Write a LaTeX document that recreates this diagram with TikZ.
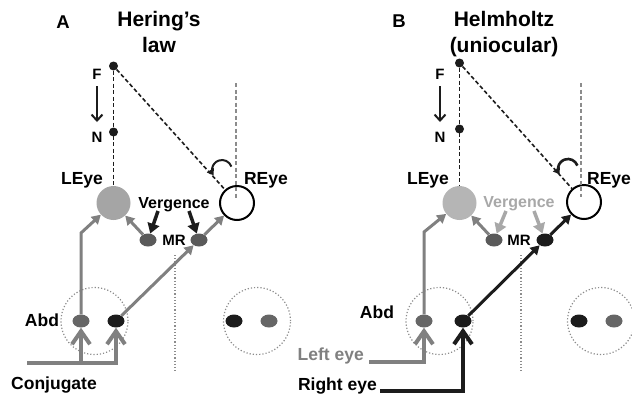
\documentclass[tikz,border=0pt]{standalone}
\usepackage{fontspec}
\setmainfont{Liberation Sans}
\usetikzlibrary{arrows.meta,shapes.geometric}
\definecolor{eyeA}{HTML}{A5A5A5}
\definecolor{eyeB}{HTML}{B5B5B5}
\definecolor{arrgray}{HTML}{808080}
\definecolor{mrdot}{HTML}{5A5A5A}
\definecolor{abddot}{HTML}{666666}
\definecolor{blk}{HTML}{1C1C1C}
\definecolor{lightg}{HTML}{A8A8A8}
\definecolor{dotg}{HTML}{8C8C8C}
\begin{document}
\begin{tikzpicture}[x=1pt,y=-1pt,
  lbl/.style={font=\fontsize{17.5}{20}\selectfont\bfseries, inner sep=0, anchor=base},
  smalllbl/.style={font=\fontsize{15}{18}\selectfont\bfseries, inner sep=0, anchor=base},
  verglbl/.style={font=\fontsize{16}{18}\selectfont\bfseries, inner sep=0, anchor=base},
  ttl/.style={font=\fontsize{21}{26}\selectfont\bfseries, inner sep=0, align=center, anchor=base},
  lefteye/.style={circle, minimum size=34pt, inner sep=0, fill=#1},
  righteye/.style={circle, minimum size=34pt, inner sep=0, draw=black, line width=2pt, fill=white},
  spot/.style={ellipse, minimum width=17pt, minimum height=13pt, inner sep=0, fill=#1},
  fixpt/.style={circle, fill=blk, minimum size=9pt, inner sep=0},
  pupil/.style={circle, draw=dotg, line width=1.2pt, dash pattern=on 1.2pt off 2pt, minimum size=67pt, inner sep=0},
  dline/.style={draw=dotg, line width=1.2pt, dash pattern=on 1.2pt off 2pt},
  bdash/.style={draw=blk, line width=1.6pt, dash pattern=on 4pt off 2.5pt},
  gdash/.style={draw=dotg, line width=1.5pt, dash pattern=on 4pt off 2.5pt},
  garrow/.style={draw=#1, line width=3pt, -{Triangle[length=9pt,width=10pt]}},
  verg/.style={draw=#1, line width=3.5pt, -{Triangle[length=10pt,width=12pt]}},
  inline/.style={draw=#1, line width=4pt, -{Straight Barb[length=13pt,width=18pt]}},
  fnarrow/.style={draw=blk, line width=2pt, -{Straight Barb[length=6pt,width=11pt]}},
  turn/.style={draw=blk, line width=#1, -{Triangle[length=6pt,width=8pt]}}
]
\useasboundingbox (0,0) rectangle (632,394);

% ================= Panel A =================
\node[lbl, font=\fontsize{18.5}{20}\selectfont\bfseries] (labA) at (63,28) {A};
\node[ttl] (ttlA) at (159,52) {Hering’s\\law};

\node[fixpt] (Fa) at (113.5,66) {};
\node[fixpt] (Na) at (113.5,132) {};
\node[smalllbl] (FlabA) at (97,79) {F};
\node[smalllbl] (NlabA) at (97,142) {N};
\coordinate (fnA1) at (97,86);
\coordinate (fnA2) at (97,122);
\draw[fnarrow] (fnA1) -- (fnA2);

\node[lefteye=eyeA] (LEa) at (113.5,203) {};
\node[righteye] (REa) at (237,203) {};
\node[lbl] (LEyeA) at (82,184) {LEye};
\node[lbl] (REyeA) at (266,184) {REye};

\draw[bdash] (Fa) -- (LEa);
\draw[bdash] (Fa) -- (REa);
\coordinate (gdA) at (236,83);
\coordinate (gdAe) at (236,198);
\draw[gdash] (gdA) -- (gdAe);

\coordinate (arcA) at (222,170);
\draw[turn=2pt] ([shift={(20:10pt)}]arcA) arc[start angle=20, end angle=212, radius=10pt];

\node[verglbl] (VergA) at (174,208) {Vergence};
\node[spot=mrdot] (MRlA) at (148,240) {};
\node[spot=mrdot] (MRrA) at (199,240) {};
\node[smalllbl] (MRA) at (174,245) {MR};
\coordinate (v1A) at (158,211);
\coordinate (v2A) at (189,211);
\draw[verg=blk] (v1A) -- (MRlA);
\draw[verg=blk] (v2A) -- (MRrA);
\draw[garrow=arrgray] (MRlA) -- (LEa);
\draw[garrow=arrgray] (MRrA) -- (REa);

\coordinate (dvA1) at (175,255);
\coordinate (dvA2) at (175,373);
\draw[dline] (dvA1) -- (dvA2);

\node[pupil] (pupLA) at (94.5,321) {};
\node[spot=abddot] (AbdA) at (81,321) {};
\node[spot=blk] (BkA) at (116,321) {};
\node[lbl] (AbdlabA) at (42,326) {Abd};
\draw[garrow=arrgray] (AbdA) -- (AbdA |- 0,233) -- (LEa);
\draw[garrow=arrgray] (BkA) -- (MRrA);

\node[pupil] (pupRA) at (257,321) {};
\node[spot=blk] (BkRA) at (234,321) {};
\node[spot=abddot] (GrRA) at (269,321) {};

\coordinate (cj0) at (27,363);
\draw[inline=arrgray] (cj0) -| (BkA);
\draw[inline=arrgray] (AbdA |- cj0) -- (AbdA);
\node[lbl] (ConjA) at (54,389) {Conjugate};

% ================= Panel B =================
\node[lbl, font=\fontsize{18.5}{20}\selectfont\bfseries] (labB) at (399,27) {B};
\node[ttl] (ttlB) at (504,52) {Helmholtz\\(uniocular)};

\node[fixpt] (Fb) at (459.5,63) {};
\node[fixpt] (Nb) at (459.5,129) {};
\node[smalllbl] (FlabB) at (440,79) {F};
\node[smalllbl] (NlabB) at (440,142) {N};
\coordinate (fnB1) at (440,86);
\coordinate (fnB2) at (440,122);
\draw[fnarrow] (fnB1) -- (fnB2);

\node[lefteye=eyeB] (LEb) at (459.5,203) {};
\node[righteye] (REb) at (584,202) {};
\node[lbl] (LEyeB) at (428,184) {LEye};
\node[lbl] (REyeB) at (609,184) {REye};

\draw[bdash] (Fb) -- (LEb);
\draw[bdash] (Fb) -- (REb);
\coordinate (gdB) at (581,83);
\coordinate (gdBe) at (581,197);
\draw[gdash] (gdB) -- (gdBe);

\coordinate (arcB) at (568,169);
\draw[turn=2.6pt] ([shift={(20:10pt)}]arcB) arc[start angle=20, end angle=212, radius=10pt];

\node[verglbl, text=lightg] (VergB) at (519,207) {Vergence};
\node[spot=mrdot] (MRlB) at (494,240) {};
\node[spot=blk] (MRrB) at (545,240) {};
\node[smalllbl] (MRB) at (519,245) {MR};
\coordinate (v1B) at (506,211);
\coordinate (v2B) at (534,211);
\draw[verg=lightg] (v1B) -- (MRlB);
\draw[verg=lightg] (v2B) -- (MRrB);
\draw[garrow=arrgray] (MRlB) -- (LEb);
\draw[garrow=blk] (MRrB) -- (REb);

\coordinate (dvB1) at (521,255);
\coordinate (dvB2) at (521,373);
\draw[dline] (dvB1) -- (dvB2);

\node[pupil] (pupLB) at (439.5,321) {};
\node[spot=abddot] (AbdB) at (424,321) {};
\node[spot=blk] (BkB) at (463,321) {};
\node[lbl] (AbdlabB) at (377,318) {Abd};
\draw[garrow=arrgray] (AbdB) -- (AbdB |- 0,232) -- (LEb);
\draw[garrow=blk] (BkB) -- (MRrB);

\node[pupil] (pupRB) at (601,321) {};
\node[spot=blk] (BkRB) at (579,321) {};
\node[spot=abddot] (GrRB) at (614,321) {};

\coordinate (le0) at (369,362);
\coordinate (re0) at (380,391);
\draw[inline=arrgray] (le0) -| (AbdB);
\draw[inline=blk] (re0) -| (BkB);
\node[lbl, anchor=base east, text=arrgray] (LeftEye) at (364,360) {Left eye};
\node[lbl, anchor=base east] (RightEye) at (377,390) {Right eye};
\end{tikzpicture}
\end{document}
